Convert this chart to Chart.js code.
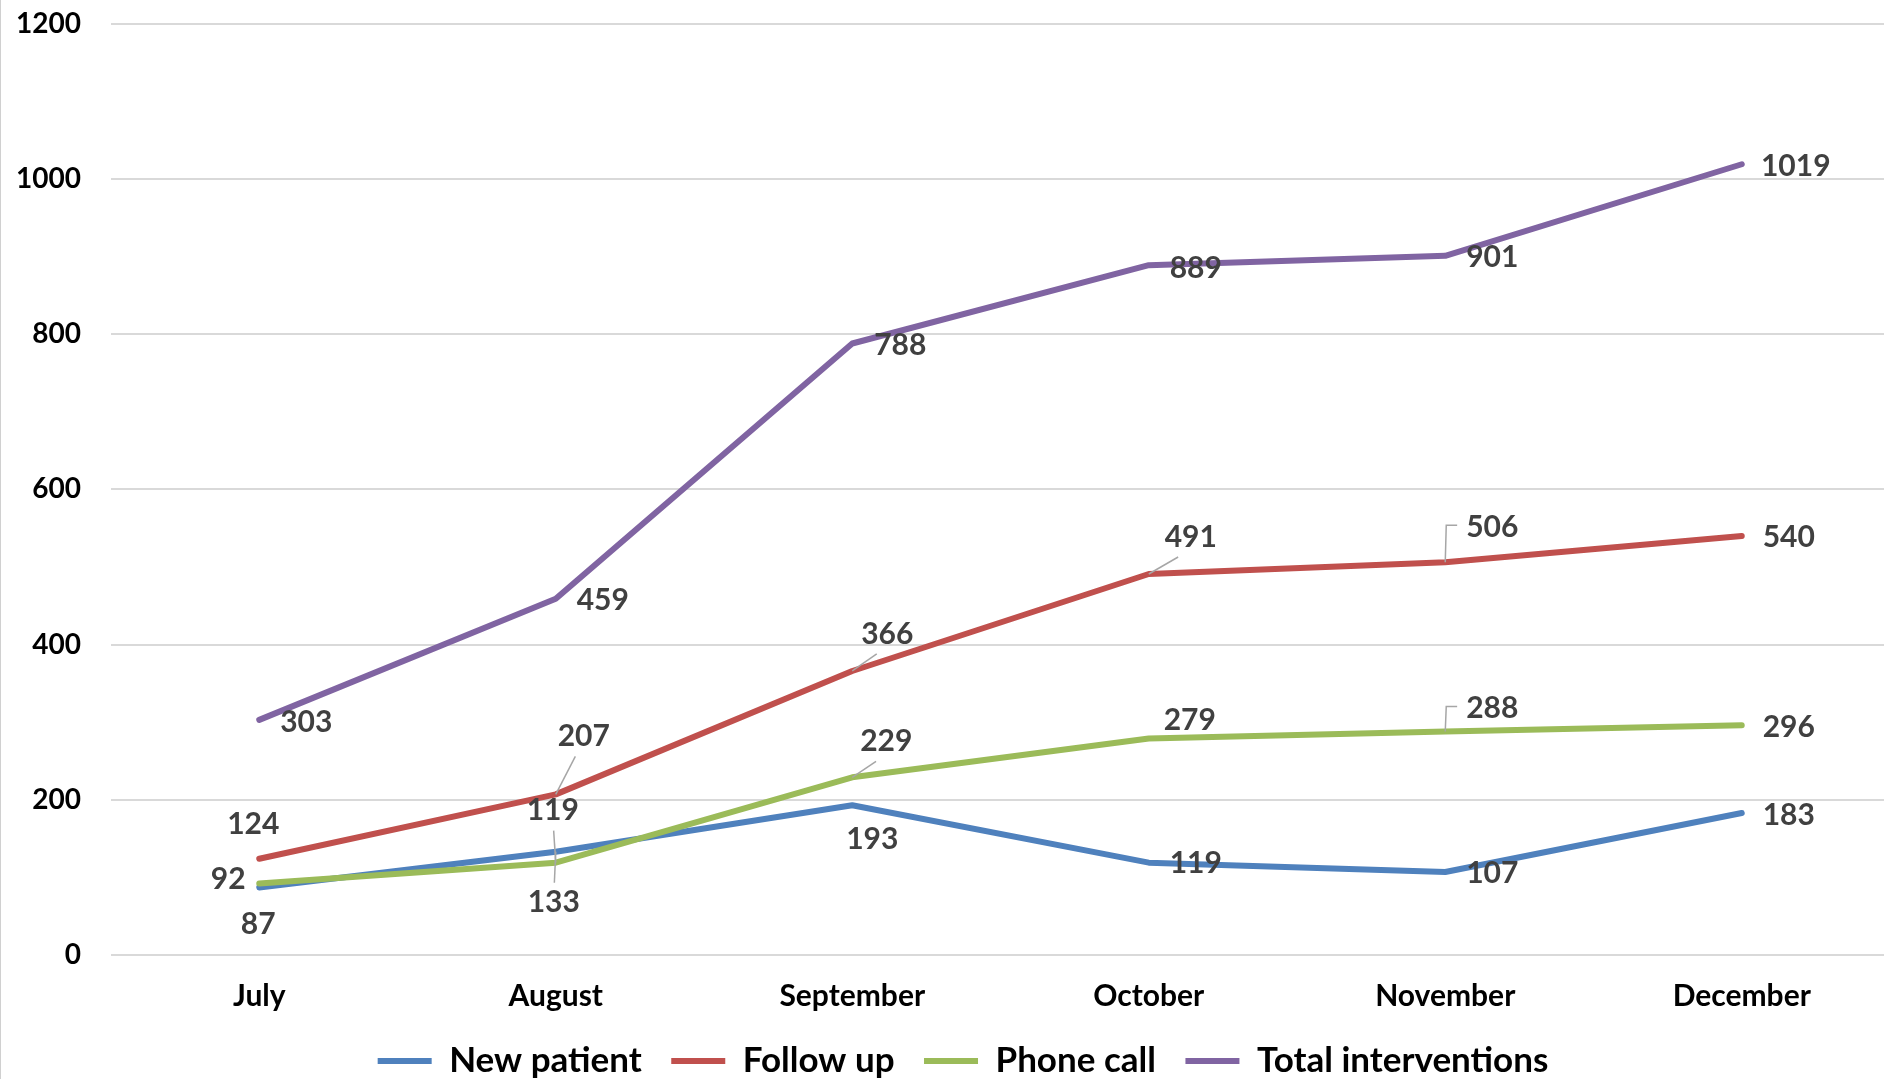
<!DOCTYPE html>
<html>
<head>
<meta charset="utf-8">
<script src="https://cdn.jsdelivr.net/npm/chart.js@4/dist/chart.umd.min.js"></script>
<style>
  html, body { margin: 0; padding: 0; background: #fff; overflow: hidden; }
  #frame { position: relative; width: 1884px; height: 1079px; overflow: hidden; }
  #wrap { position: absolute; left: 0; top: -23px; width: 1890px; height: 1102px; }
  #edge { position: absolute; left: 0; top: 0; width: 1px; height: 1079px; background: #d0d0d0; }
</style>
</head>
<body>
<div id="frame">
  <div id="wrap"><canvas id="interventionsChart"></canvas></div>
  <div id="edge"></div>
</div>
<script>
// chart data
const months = ['July', 'August', 'September', 'October', 'November', 'December'];
const newPatient = [87, 133, 193, 119, 107, 183];
const followUp = [124, 207, 366, 491, 506, 540];
const phoneCall = [92, 119, 229, 279, 288, 296];
const totalInterventions = [303, 459, 788, 889, 901, 1019];
const seriesNames = ['New patient', 'Follow up', 'Phone call', 'Total interventions'];

const colors = ['#4f81bd', '#c0504d', '#9bbb59', '#8064a2'];

// where each value label sits relative to its point: [dx, dy, leader]
const labelPlacement = [
    [[-1, 37], [-2, 51, 'line'], [20, 34], [47, 1], [47, 1], [47, 2]],
    [[-6, -34], [28, -58, 'line'], [35, -37, 'line'], [42, -37, 'line'], [47, -35, 'bracket'], [47, 1]],
    [[-31, -4], [-3, -52, 'line'], [34, -36, 'line'], [41, -18], [47, -23, 'bracket'], [47, 2]],
    [[47, 2], [47, 2], [48, 2], [47, 3], [47, 2], [54, 2]]
];

const FONT = 'Lato, "Open Sans", sans-serif';

const valueLabels = {
    id: 'valueLabels',
    afterDatasetsDraw(chart) {
        const ctx = chart.ctx;
        ctx.save();
        ctx.font = 'bold 30px ' + FONT;
        ctx.textAlign = 'center';
        ctx.textBaseline = 'middle';
        chart.data.datasets.forEach((ds, di) => {
            const meta = chart.getDatasetMeta(di);
            meta.data.forEach((pt, i) => {
                const place = labelPlacement[di][i];
                const cx = pt.x + place[0];
                const cy = pt.y + place[1];
                const text = String(ds.data[i]);
                if (place[2]) {
                    ctx.strokeStyle = '#a6a6a6';
                    ctx.lineWidth = 1.5;
                    ctx.beginPath();
                    if (place[2] === 'bracket') {
                        const w = ctx.measureText(text).width;
                        ctx.moveTo(pt.x, pt.y);
                        ctx.lineTo(pt.x + 1, cy - 2);
                        ctx.lineTo(cx - w / 2 - 9, cy - 2);
                    } else {
                        const sign = pt.y > cy ? 1 : -1;
                        ctx.moveTo(cx + (pt.x - cx) * 0.3, cy + sign * 20);
                        ctx.lineTo(pt.x, pt.y);
                    }
                    ctx.stroke();
                }
                ctx.fillStyle = '#404040';
                ctx.fillText(text, cx, cy);
            });
        });
        ctx.restore();
    }
};

// nudge the legend a little right, as in the original
const legendShift = {
    id: 'legendShift',
    afterLayout(chart) {
        chart.legend.left += 18;
        chart.legend.right += 18;
    }
};

function makeDataset(label, data, color, order) {
    return {
        label: label,
        data: data,
        borderColor: color,
        backgroundColor: color,
        borderWidth: 6,
        borderCapStyle: 'round',
        borderJoinStyle: 'round',
        pointRadius: 0,
        pointHoverRadius: 0,
        tension: 0,
        fill: false,
        order: order
    };
}

new Chart(document.getElementById('interventionsChart'), {
    type: 'line',
    data: {
        labels: months,
        datasets: [
            makeDataset(seriesNames[0], newPatient, colors[0], 4),
            makeDataset(seriesNames[1], followUp, colors[1], 3),
            makeDataset(seriesNames[2], phoneCall, colors[2], 2),
            makeDataset(seriesNames[3], totalInterventions, colors[3], 1)
        ]
    },
    options: {
        responsive: true,
        maintainAspectRatio: false,
        animation: false,
        layout: { padding: { top: 0, left: 0, right: 0, bottom: -9.5 } },
        scales: {
            x: {
                offset: true,
                grid: { display: false, drawTicks: false },
                border: { display: false },
                ticks: {
                    color: '#000',
                    padding: 23,
                    font: { family: FONT, size: 30, weight: 'bold' },
                    maxRotation: 0
                },
                afterFit(scale) { scale.height = 59; }
            },
            y: {
                min: 0,
                max: 1200,
                grid: { color: '#d9d9d9', lineWidth: 2, drawTicks: false },
                border: { display: false },
                ticks: {
                    stepSize: 200,
                    color: '#000',
                    padding: 30,
                    font: { family: FONT, size: 28, weight: 'bold' },
                    callback: value => String(value)
                },
                afterFit(scale) { scale.width = 111; }
            }
        },
        plugins: {
            tooltip: { enabled: false },
            legend: {
                position: 'bottom',
                labels: {
                    color: '#000',
                    boxWidth: 54,
                    boxHeight: 6,
                    padding: 29.5,
                    font: { family: FONT, size: 35, weight: 'bold' },
                    sort: (a, b) => a.datasetIndex - b.datasetIndex,
                    generateLabels(chart) {
                        const items = Chart.defaults.plugins.legend.labels.generateLabels(chart);
                        items.forEach(it => { it.lineWidth = 0; });
                        return items;
                    }
                }
            }
        }
    },
    plugins: [valueLabels, legendShift]
});
</script>
</body>
</html>
